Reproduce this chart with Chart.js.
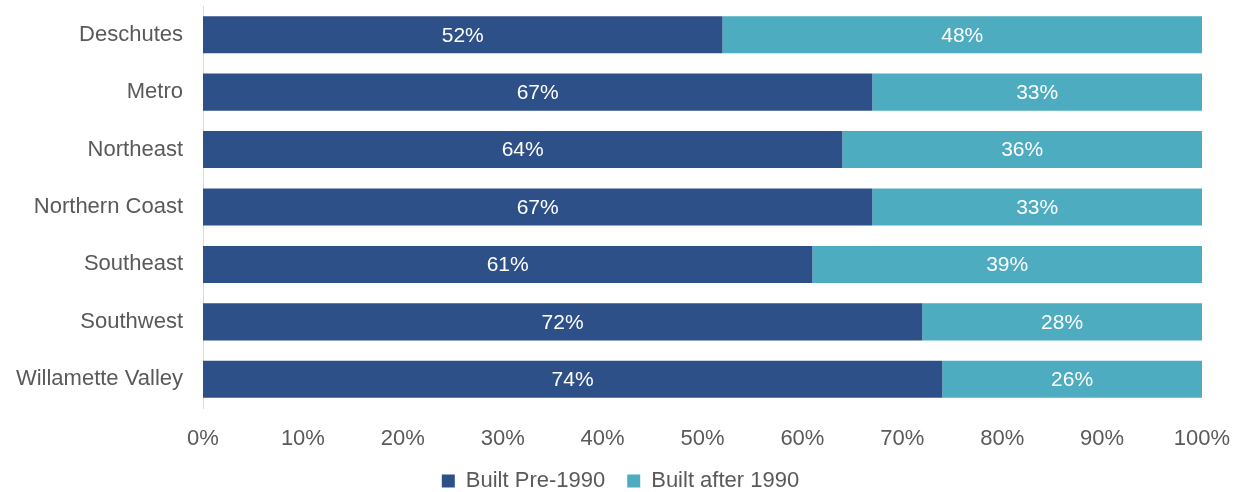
<!DOCTYPE html>
<html>
<head>
<meta charset="utf-8">
<script src="https://cdn.jsdelivr.net/npm/chart.js@4.4.1/dist/chart.umd.min.js"></script>
<style>
  html, body { margin: 0; padding: 0; background: #fff; }
  #wrap { width: 1241px; height: 492px; position: relative; }
</style>
</head>
<body>
<div id="wrap"><canvas id="chart"></canvas></div>
<script>
// Share of homes by construction era, per region
const regionNames    = ['Deschutes', 'Metro', 'Northeast', 'Northern Coast', 'Southeast', 'Southwest', 'Willamette Valley'];
const builtPre1990   = [52, 67, 64, 67, 61, 72, 74];
const builtAfter1990 = [48, 33, 36, 33, 39, 28, 26];
const seriesNames    = ['Built Pre-1990', 'Built after 1990'];
const xTicks         = [0, 10, 20, 30, 40, 50, 60, 70, 80, 90, 100];

const FONT = "'Liberation Sans', Arial, sans-serif";
const GREY = '#595959';

// writes the percentage in the middle of every segment
const segmentLabels = {
  id: 'segmentLabels',
  afterDatasetsDraw(chart) {
    const ctx = chart.ctx;
    ctx.save();
    ctx.fillStyle = '#fff';
    ctx.font = `21px ${FONT}`;
    ctx.textAlign = 'center';
    ctx.textBaseline = 'middle';
    chart.data.datasets.forEach((ds, di) => {
      chart.getDatasetMeta(di).data.forEach((bar, i) => {
        ctx.fillText(ds.data[i] + '%', (bar.x + bar.base) / 2, bar.y + 1);
      });
    });
    ctx.restore();
  }
};

new Chart(document.getElementById('chart'), {
  type: 'bar',
  data: {
    labels: regionNames,
    datasets: [
      { label: seriesNames[0], data: builtPre1990,   backgroundColor: '#2E5089' },
      { label: seriesNames[1], data: builtAfter1990, backgroundColor: '#4DACBF' },
    ],
  },
  options: {
    indexAxis: 'y',
    responsive: true,
    maintainAspectRatio: false,
    animation: false,
    // legend spans the full width; the plot's right margin comes from the x scale
    layout: { padding: { left: 0, right: 0, top: 6, bottom: -10 } },
    datasets: { bar: { categoryPercentage: 1, barPercentage: 0.645 } },
    plugins: {
      tooltip: { enabled: false },
      legend: {
        position: 'bottom',
        labels: {
          color: GREY,
          font: { family: FONT, size: 22 },
          boxWidth: 13,
          boxHeight: 13,
          padding: 22,
        },
      },
    },
    scales: {
      x: {
        stacked: true,
        min: 0,
        max: 100,
        afterBuildTicks: s => { s.ticks = xTicks.map(v => ({ value: v })); },
        grid: { display: false, drawTicks: false },
        border: { display: false },
        ticks: {
          color: GREY,
          font: { family: FONT, size: 22 },
          padding: 18,
          callback: v => v + '%',
        },
        afterFit: s => { s.height = 40; s.paddingLeft = 0; s.paddingRight = 39; },
      },
      y: {
        stacked: true,
        grid: { display: false, drawTicks: false },
        border: { display: true, color: '#D9D9D9', width: 1 },
        ticks: {
          color: GREY,
          font: { family: FONT, size: 22 },
          padding: 20,
        },
        afterFit: s => { s.width = 203; s.paddingTop = 0; s.paddingBottom = 0; },
      },
    },
  },
  plugins: [segmentLabels],
});
</script>
</body>
</html>
